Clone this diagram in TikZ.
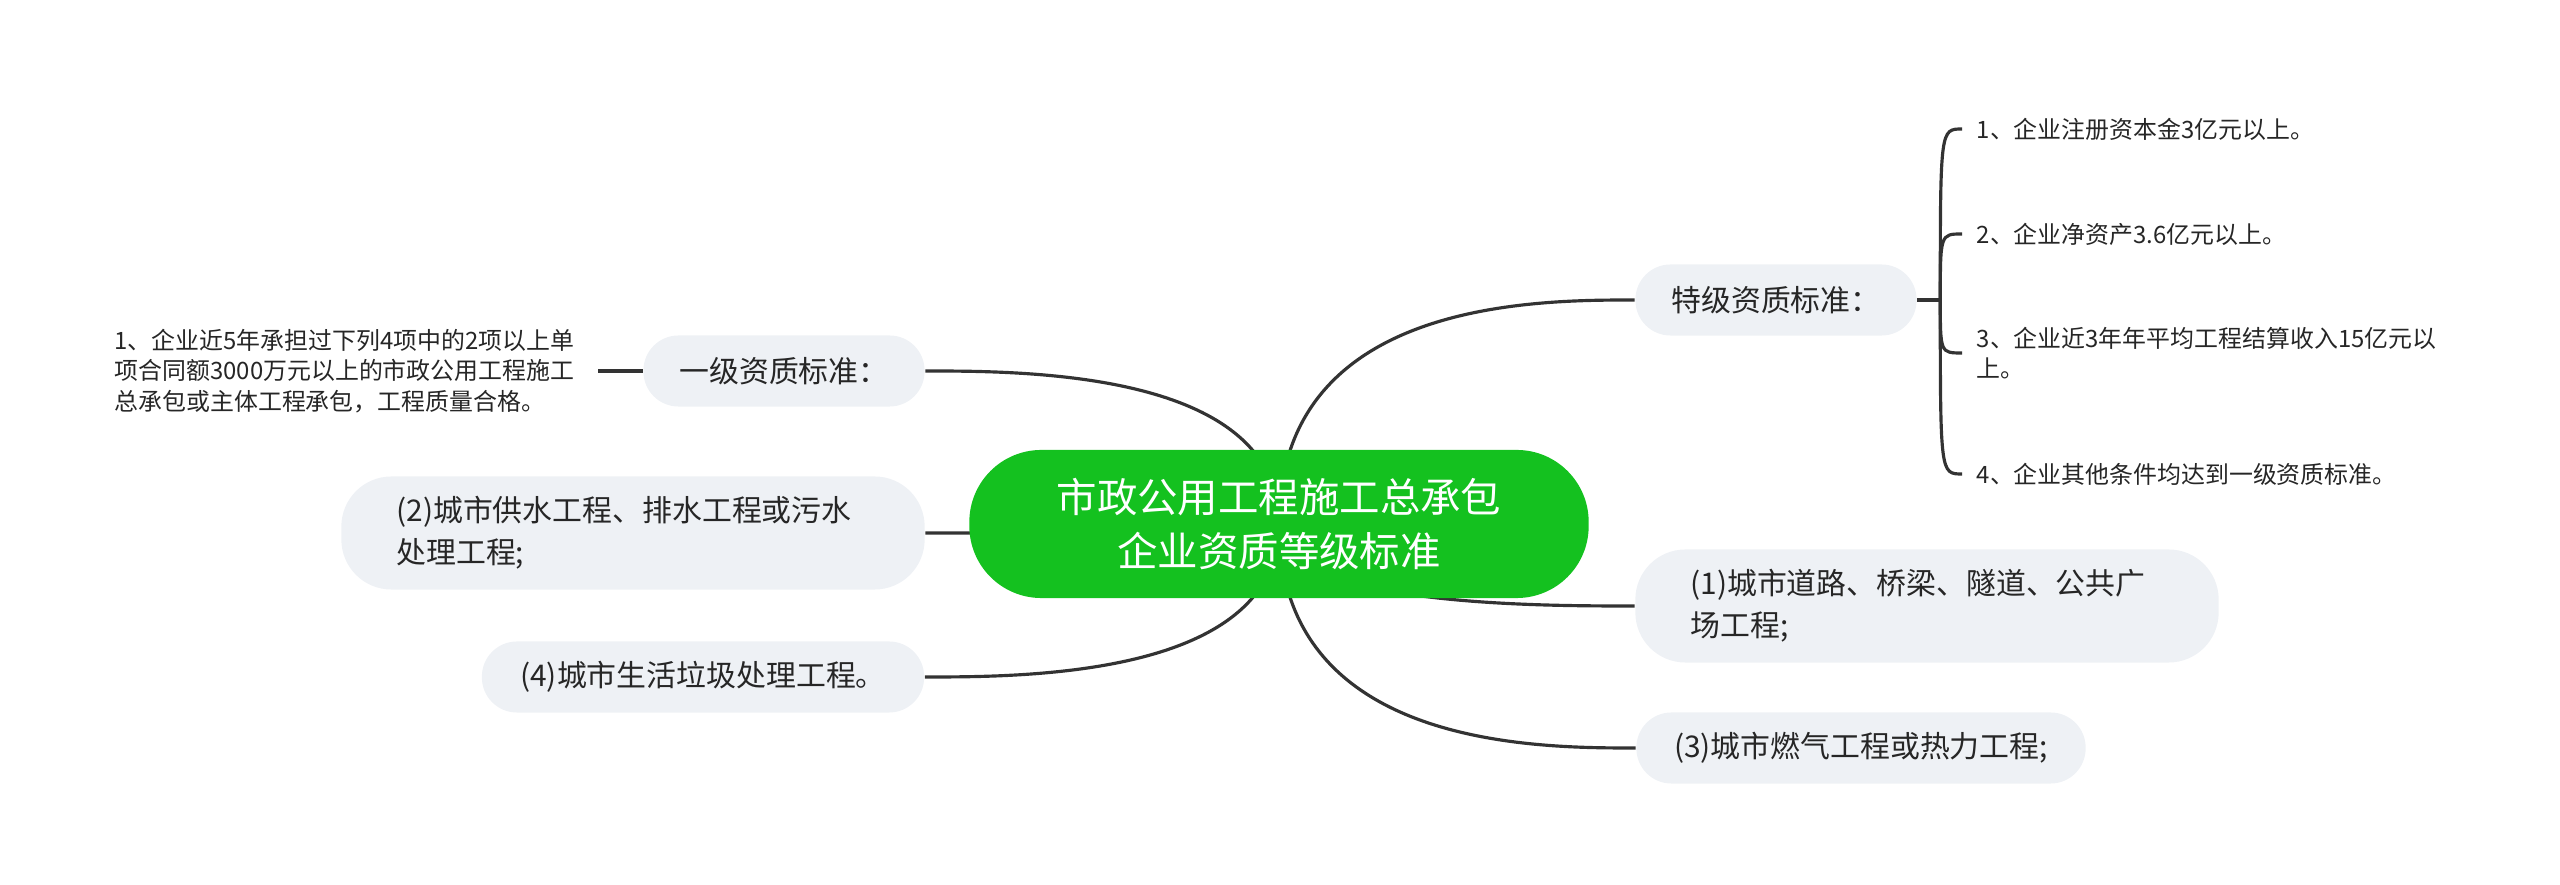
\documentclass[tikz,border=0pt]{standalone}
\usepackage{fontspec}
\newfontfamily\cjk{Noto Sans CJK SC}
\usetikzlibrary{calc,backgrounds}
\definecolor{rootFill}{HTML}{14C11F}
\definecolor{subFill}{HTML}{EEF1F5}
\definecolor{linkDraw}{HTML}{333333}
\definecolor{textDraw}{HTML}{262626}
\tikzset{
  root/.style  ={fill=rootFill, rounded corners=0.72cm, align=center, text=white, minimum width=6.19cm, minimum height=1.48cm, font=\cjk\fontsize{11.5}{15.6}\selectfont},
  sub/.style   ={fill=subFill, rounded corners=0.35cm, align=center, text=textDraw, minimum height=0.71cm, inner xsep=0.3cm, font=\cjk\fontsize{8.5}{12}\selectfont},
  subtwo/.style={sub, rounded corners=0.5cm, align=left, text width=4.73cm, inner xsep=0.55cm, minimum height=1.13cm},
  leaf/.style  ={align=left, text=textDraw, inner xsep=0.14cm, inner ysep=2pt, font=\cjk\fontsize{6.8}{8.7}\selectfont},
  link/.style  ={draw=linkDraw, line width=0.9pt},
}

\begin{document}
\begin{tikzpicture}[x=0.01cm, y=0.01cm]
  \useasboundingbox (0,0) rectangle (2560,885);

  % central topic
  \node[root] (c) at (1279,361) {市政公用工程施工总承包\\企业资质等级标准};

  % left side
  \node[sub, minimum width=2.81cm] (yj) at (784,514) {一级资质标准：};
  \node[leaf, anchor=east, inner xsep=0.23cm] (yj1) at (598,514) {1、企业近5年承担过下列4项中的2项以上单\\项合同额3000万元以上的市政公用工程施工\\总承包或主体工程承包，工程质量合格。};
  \node[subtwo] (gs) at (633,352) {(2)城市供水工程、排水工程或污水\\处理工程;};
  \node[sub, minimum width=4.42cm] (lj) at (703,208) {(4)城市生活垃圾处理工程。};

  % right side
  \node[sub, minimum width=2.81cm] (tj) at (1776,585) {特级资质标准：};
  \node[subtwo] (dl) at (1927,279) {(1)城市道路、桥梁、隧道、公共广\\场工程;};
  \node[sub, minimum width=4.49cm] (rq) at (1861,137) {(3)城市燃气工程或热力工程;};

  % special-grade items
  \node[leaf, anchor=west] (tj1) at (1962,756) {1、企业注册资本金3亿元以上。};
  \node[leaf, anchor=west] (tj2) at (1962,651) {2、企业净资产3.6亿元以上。};
  \node[leaf, anchor=west] (tj3) at (1962,532) {3、企业近3年年平均工程结算收入15亿元以\\上。};
  \node[leaf, anchor=west] (tj4) at (1962,411) {4、企业其他条件均达到一级资质标准。};
  \coordinate (tjb) at ($(tj.east)+(23,0)$);

  % links from the centre, hidden behind the central topic
  \begin{scope}[on background layer]
    \draw[link] (c.center) .. controls (c.center |- yj.east) and ($(yj.east)+(100,0)$) .. (yj.east);
    \draw[link] (c.center) .. controls (c.center |- gs.east) and ($(gs.east)+(100,0)$) .. (gs.east);
    \draw[link] (c.center) .. controls (c.center |- lj.east) and ($(lj.east)+(100,0)$) .. (lj.east);
    \draw[link] (c.center) .. controls (c.center |- tj.west) and ($(tj.west)+(-100,0)$) .. (tj.west);
    \draw[link] (c.center) .. controls (c.center |- dl.west) and ($(dl.west)+(-100,0)$) .. (dl.west);
    \draw[link] (c.center) .. controls (c.center |- rq.west) and ($(rq.west)+(-100,0)$) .. (rq.west);
  \end{scope}

  \draw[link] (yj1.east) -- (yj.west);
  \draw[link] (tj.east) -- (tjb);
  \foreach \n in {tj1,tj2,tj3,tj4}
    \draw[link] (tjb) .. controls (tjb |- \n.west) .. (\n.west);
\end{tikzpicture}
\end{document}
